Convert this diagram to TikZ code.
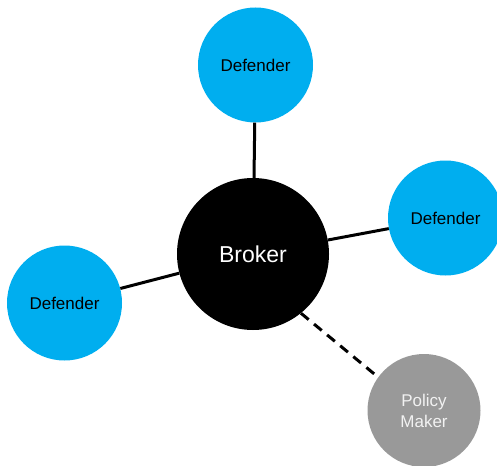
\documentclass[tikz,border=0pt]{standalone}
\usepackage{fontspec}
\setmainfont{Liberation Sans}
\begin{document}
\begin{tikzpicture}[x=1pt,y=-1pt,
  defender/.style={circle, fill=defblue, minimum size=115pt, inner sep=0pt, font=\fontsize{17}{20}\selectfont},
  broker/.style={circle, fill=black, text=white, minimum size=152pt, inner sep=0pt, font=\fontsize{23}{26}\selectfont},
  policy/.style={circle, fill=pmgray, text=pmtext, minimum size=113pt, inner sep=0pt, align=center, font=\fontsize{17}{21}\selectfont},
  link/.style={line width=3pt},
  dlink/.style={line width=3pt, dash pattern=on 10pt off 7pt}]
\definecolor{defblue}{HTML}{00AEEF}
\definecolor{pmgray}{HTML}{999999}
\definecolor{pmtext}{HTML}{F2F2F2}
\useasboundingbox (0,0) rectangle (497,465);
\clip (0,0) rectangle (497,465);
% hub and its four satellites
\node[broker] (broker) at (253,254) {Broker};
\node[defender] (dtop) at (255.5,65) {Defender};
\node[defender] (dright) at (445.5,218) {Defender};
\node[defender] (dleft) at (64.5,303) {Defender};
\node[policy] (pm) at (424,410.5) {Policy\\Maker};
% spokes
\draw[link] (dtop) -- (broker);
\draw[link] (dright) -- (broker);
\draw[link] (dleft) -- (broker);
\draw[dlink] (broker.-51) -- (pm.144);
\end{tikzpicture}
\end{document}
